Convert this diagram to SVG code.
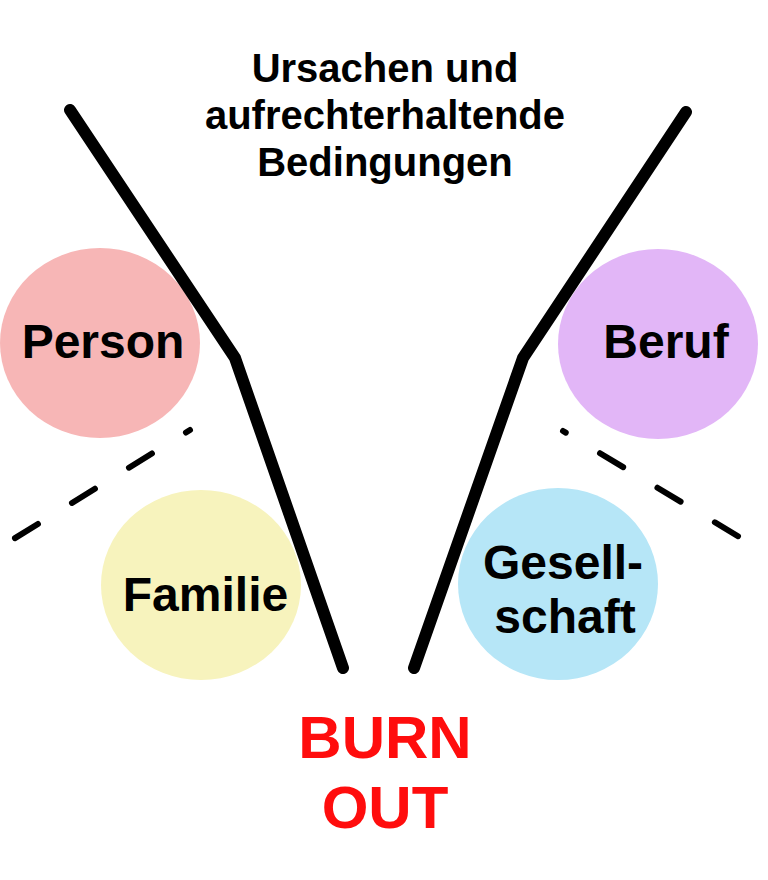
<svg xmlns="http://www.w3.org/2000/svg" width="768" height="880" viewBox="0 0 768 880">
<style>
.lbl{font-family:"Liberation Sans",Arial,sans-serif;font-weight:bold;fill:#000;text-anchor:middle}
.funnel{fill:none;stroke:#000;stroke-width:12;stroke-linecap:round;stroke-linejoin:miter}
.dash{fill:none;stroke:#000;stroke-width:6;stroke-linecap:round;stroke-dasharray:27 40;stroke-dashoffset:-3.5}
</style>
<rect width="768" height="880" fill="#fff"/>
<g id="title">
<text class="lbl" x="385" y="82" font-size="40">Ursachen und</text>
<text class="lbl" x="385" y="129" font-size="40">aufrechterhaltende</text>
<text class="lbl" x="385" y="176" font-size="40">Bedingungen</text>
</g>
<g id="person">
<ellipse cx="100" cy="343" rx="100" ry="95" fill="#f7b6b6"/>
<text class="lbl" x="103" y="358" font-size="48">Person</text>
</g>
<g id="beruf">
<ellipse cx="658" cy="344" rx="100" ry="95" fill="#e2b6f7"/>
<text class="lbl" x="666" y="358" font-size="48">Beruf</text>
</g>
<g id="familie">
<ellipse cx="201" cy="585" rx="100" ry="95" fill="#f7f3bd"/>
<text class="lbl" x="205.5" y="611" font-size="48">Familie</text>
</g>
<g id="gesellschaft">
<ellipse cx="558" cy="584" rx="100" ry="96" fill="#b6e6f7"/>
<text class="lbl" x="563" y="579" font-size="48">Gesell-</text>
<text class="lbl" x="565" y="633" font-size="48">schaft</text>
</g>
<g id="connectors">
<path class="funnel" d="M70,110 L235,358 L343,668"/>
<path class="funnel" d="M686,112 L523,358 L414,668"/>
<path class="dash" d="M12,540 L190,430"/>
<path class="dash" d="M741,538 L563,431"/>
</g>
<g id="burnout">
<text class="lbl" x="385" y="758" font-size="60" style="fill:#ff0d0d">BURN</text>
<text class="lbl" x="385" y="828" font-size="60" style="fill:#ff0d0d">OUT</text>
</g>
</svg>
